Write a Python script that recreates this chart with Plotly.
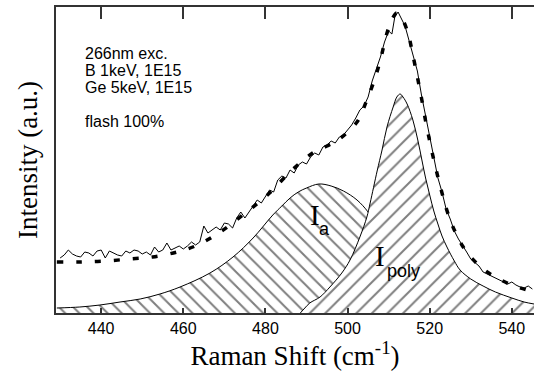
import plotly.graph_objects as go

# ---------------- data ----------------
# measured Raman spectrum (arbitrary units)
wn_meas = [430, 431, 432, 433, 434, 435, 436, 437, 438, 439,
           440, 441, 442, 443, 444, 445, 446, 447, 448, 449,
           450, 451, 452, 453, 454, 455, 456, 457, 458, 459,
           460, 461, 462, 463, 464, 465, 466, 467, 468, 469,
           470, 471, 472, 473, 474, 475, 476, 477, 478, 479,
           480, 481, 482, 483, 484, 485, 486, 487, 488, 489,
           490, 491, 492, 493, 494, 495, 496, 497, 498, 499,
           500, 501, 502, 503, 504, 505, 506, 507, 508, 509,
           510, 510.8, 511.5, 512.3, 513.2, 514, 515, 516, 517, 518,
           519, 520, 521, 522, 523, 524, 525, 526, 527, 528,
           529, 530, 531, 532, 533, 534, 535, 536, 537, 538,
           539, 540, 541, 542, 543, 544, 545]
int_meas = [55, 58, 63, 59, 57, 56, 61, 60, 57, 62,
            63, 55, 62, 60, 58, 57, 62, 60, 63, 62,
            59, 61, 58, 66, 61, 63, 70, 63, 65, 67,
            64, 67, 71, 68, 71, 87, 80, 83, 86, 83,
            90, 89, 85, 95, 101, 95, 101, 107, 113, 110,
            116, 123, 121, 133, 137, 135, 143, 140, 148, 151,
            149, 156, 160, 158, 166, 168, 172, 170, 176, 178,
            183, 188, 195, 203, 207, 216, 232, 244, 256, 271,
            282, 279, 296, 301, 294, 287, 272, 258, 242, 218,
            198, 175, 156, 135, 121, 104, 94, 82, 74, 68,
            61, 54, 50, 47, 41, 39, 37, 35, 33, 31,
            29, 31, 28, 26, 25, 27, 24]

# total fit (thick dashed curve)
wn_fit = [429.2, 435, 441, 447, 452.5, 458.5, 463.5, 469, 474.5, 480.5,
          486.5, 491.5, 495, 498, 502.3, 504.7, 506.7, 508, 509.6, 511,
          512, 513.2, 514.7, 515.9, 517, 518, 519, 520, 521, 522,
          523, 524, 525, 526, 527, 528, 530, 533, 536, 540, 545.4]
int_fit = [51, 51, 52, 54, 56, 61, 68, 81, 98, 118,
           143, 160, 167, 174, 191, 213, 235, 253, 280, 295,
           300, 295, 280, 258, 236, 215, 192, 172, 153, 136,
           120, 105, 93, 83, 75, 67, 56, 44, 36, 28, 21]

# amorphous component I_a
wn_a = [429.2, 434.8, 439.7, 444.6, 449.5, 454.3, 459.2, 466.5, 472.1, 477,
        481.8, 484, 486, 488, 490, 493, 496, 499, 502.3, 505,
        507, 509, 512, 515, 518, 522, 528, 535, 545.4]
int_a = [5, 6, 8, 11, 14, 19, 26, 40, 56, 75,
         98, 107, 115, 121, 125, 129, 127, 122, 113, 101,
         88, 72, 50, 32, 19, 9, 3, 1, 0]

# polycrystalline component I_poly
wn_poly = [488.5, 489.6, 490.8, 493.3, 495.7, 498.6, 500.6, 503, 504.7, 505.5,
           507.2, 508.4, 509.6, 511.1, 512, 512.8, 513.5, 514.5, 515.9, 517.1,
           518.1, 519, 520, 521, 522, 523, 524.2, 526, 527.4, 530,
           533, 536, 540, 543, 545.4]
int_poly = [0, 5, 10, 16, 26, 40, 53, 76, 96, 110,
            142, 163, 186, 206, 216, 219, 216, 209, 193, 173,
            153, 135, 118, 102, 89, 77, 66, 52, 43, 34,
            27, 21, 15, 11, 9]

x_ticks = [440, 460, 480, 500, 520, 540]
info_lines = ["266nm exc.", "B 1keV, 1E15", "Ge 5keV, 1E15", "flash 100%"]
info_y = [260, 243, 225.5, 191.5]

X_RANGE = [429, 545.4]
Y_RANGE = [0, 306]

SANS = "Liberation Sans, Arial, sans-serif"
SERIF = "Liberation Serif, Times New Roman, serif"
AX = "#333333"

fig = go.Figure()

fig.add_trace(go.Scatter(
    x=wn_a, y=int_a, mode="lines", line=dict(color="black", width=1, shape="spline"),
    fill="tozeroy", fillcolor="white",
    fillpattern=dict(shape="\\", fgcolor="black", bgcolor="white", size=10, solidity=0.2),
    showlegend=False, hoverinfo="skip"))

fig.add_trace(go.Scatter(
    x=wn_poly, y=int_poly, mode="lines", line=dict(color="black", width=1, shape="spline"),
    fill="tozeroy", fillcolor="white",
    fillpattern=dict(shape="/", fgcolor="black", bgcolor="white", size=11, solidity=0.18),
    showlegend=False, hoverinfo="skip"))

fig.add_trace(go.Scatter(
    x=wn_meas, y=int_meas, mode="lines", line=dict(color="black", width=1),
    showlegend=False, hoverinfo="skip"))

fig.add_trace(go.Scatter(
    x=wn_fit, y=int_fit, mode="lines",
    line=dict(color="black", width=3.5, dash="6px,13px", shape="spline"),
    showlegend=False, hoverinfo="skip"))

# invisible trace to carry the top (mirrored) axis
fig.add_trace(go.Scatter(x=X_RANGE, y=Y_RANGE, xaxis="x2", mode="lines",
                         line=dict(width=0), opacity=0, showlegend=False, hoverinfo="skip"))

for txt, yy in zip(info_lines, info_y):
    fig.add_annotation(x=435.6, y=yy, xref="x", yref="y", text=txt, showarrow=False,
                       xanchor="left", yanchor="middle",
                       font=dict(family=SANS, size=16, color="black"))

# component labels
fig.add_annotation(x=492.1, y=98, text="I", showarrow=False, xanchor="center", yanchor="middle",
                   font=dict(family=SERIF, size=29, color="black"))
fig.add_annotation(x=494.3, y=84, text="a", showarrow=False, xanchor="center", yanchor="middle",
                   font=dict(family=SANS, size=18, color="black"))
fig.add_annotation(x=507.9, y=57, text="I", showarrow=False, xanchor="center", yanchor="middle",
                   font=dict(family=SERIF, size=29, color="black"))
fig.add_annotation(x=509.0, y=42, text="poly", showarrow=False, xanchor="left", yanchor="middle",
                   font=dict(family=SANS, size=18, color="black"))

fig.update_layout(
    width=534, height=371,
    margin=dict(l=56, r=0, t=7, b=58),
    paper_bgcolor="white", plot_bgcolor="white",
    xaxis=dict(range=X_RANGE, tickvals=x_ticks, ticks="inside", ticklen=5, tickwidth=1.5,
               tickcolor=AX, showline=True, linecolor=AX, linewidth=1.5, showgrid=False,
               zeroline=False, tickfont=dict(family=SANS, size=16, color="black"),
               title=dict(text="Raman Shift (cm<sup>-1</sup>)", standoff=6,
                          font=dict(family=SERIF, size=27, color="black"))),
    xaxis2=dict(range=X_RANGE, overlaying="x", side="top", tickvals=x_ticks, ticks="inside",
                ticklen=12, tickwidth=1.5, tickcolor=AX, showline=True, linecolor=AX,
                linewidth=1.5, showticklabels=False, showgrid=False, zeroline=False),
    yaxis=dict(range=Y_RANGE, showline=True, linecolor=AX, linewidth=1.5, ticks="",
               showticklabels=False, showgrid=False, zeroline=False,
               title=dict(text="Intensity (a.u.)", standoff=9,
                          font=dict(family=SERIF, size=27, color="black"))),
)

fig.write_html("out.html")
